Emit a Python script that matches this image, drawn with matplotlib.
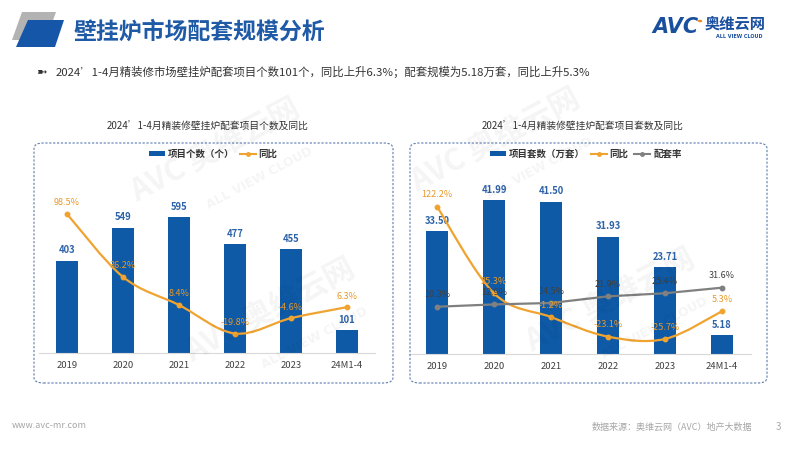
import matplotlib
matplotlib.use("Agg")
import matplotlib.pyplot as plt
from matplotlib.patches import FancyBboxPatch, Polygon, PathPatch, Patch, Circle
from matplotlib.lines import Line2D
from matplotlib.path import Path
import numpy as np

plt.rcParams['font.family'] = ['Noto Sans CJK SC', 'DejaVu Sans']

# ---------------- data ----------------
categories = ['2019', '2020', '2021', '2022', '2023', '24M1-4']
left_counts = [403, 549, 595, 477, 455, 101]
left_yoy = [98.5, 36.2, 8.4, -19.8, -4.6, 6.3]
right_sets = [33.50, 41.99, 41.50, 31.93, 23.71, 5.18]
right_yoy = [122.2, 25.3, -1.2, -23.1, -25.7, 5.3]
right_rate = [10.3, 12.9, 14.5, 21.9, 25.4, 31.6]

title = '壁挂炉市场配套规模分析'
subtitle = '2024’1-4月精装修市场壁挂炉配套项目个数101个，同比上升6.3%；配套规模为5.18万套，同比上升5.3%'
left_title = '2024’1-4月精装修壁挂炉配套项目个数及同比'
right_title = '2024’1-4月精装修壁挂炉配套项目套数及同比'

BLUE = '#0e5aa7'
ORANGE = '#f0a32f'
GRAY = '#808080'
TBLUE = '#2d62a8'

W, H = 800, 450
fig = plt.figure(figsize=(8, 4.5), dpi=100)


def fx(x):
    return x / W


def fy(y):
    return 1 - y / H


# ---------------- header ----------------
fig.patches.append(Polygon([(fx(22), fy(12)), (fx(56), fy(12)), (fx(46), fy(40)), (fx(12), fy(40))],
                           closed=True, transform=fig.transFigure, facecolor='#b3b3b3', edgecolor='none'))
fig.patches.append(Polygon([(fx(28), fy(20)), (fx(64), fy(20)), (fx(55), fy(47)), (fx(16), fy(47))],
                           closed=True, transform=fig.transFigure, facecolor='#1556a8', edgecolor='none'))
fig.text(fx(74), fy(32), title, fontsize=16.5, fontweight='bold', color='#1f5aa6', va='center', ha='left')

fig.text(fx(36), fy(72), '➼', fontsize=9, color='#333333', va='center', ha='left', family=['DejaVu Sans'])
fig.text(fx(56), fy(72), subtitle, fontsize=8.2, color='#333333', va='center', ha='left')

# logo
fig.text(fx(652), fy(27), 'AVC', fontsize=15, fontweight='heavy', color='#1a4f9f', va='center', ha='left',
         family=['DejaVu Sans'], style='italic')
fig.patches.append(Circle((fx(700), fy(21)), 0.0028, transform=fig.transFigure, facecolor='#f08a1c', edgecolor='none'))
fig.text(fx(705), fy(24), '奥维云网', fontsize=11, fontweight='bold', color='#1a4f9f', va='center', ha='left')
fig.text(fx(739), fy(37), 'ALL VIEW CLOUD', fontsize=3.5, fontweight='bold', color='#1a4f9f', va='center', ha='center',
         family=['DejaVu Sans'])

# watermarks
for (x, y) in [(215, 150), (270, 310), (495, 140), (610, 300)]:
    fig.text(fx(x), fy(y), 'AVC 奥维云网', fontsize=22, fontweight='heavy', color='#000000', alpha=0.045,
             rotation=28, ha='center', va='center')
    fig.text(fx(x + 45), fy(y + 28), 'ALL VIEW CLOUD', fontsize=9, fontweight='bold', color='#000000', alpha=0.045,
             rotation=28, ha='center', va='center', family=['DejaVu Sans'])

# footer
fig.text(fx(12), fy(426), 'www.avc-mr.com', fontsize=6.5, color='#a6a6a6', va='center', ha='left')
fig.text(fx(752), fy(427), '数据来源：奥维云网（AVC）地产大数据', fontsize=6.5, color='#a6a6a6', va='center', ha='right')
fig.text(fx(778), fy(427), '3', fontsize=7, color='#a6a6a6', va='center', ha='center')

# panels
for (x0, x1) in [(34, 393), (410, 767)]:
    fig.patches.append(FancyBboxPatch((fx(x0), fy(383)), fx(x1 - x0), (383 - 143) / H,
                                      boxstyle='round,pad=0,rounding_size=0.012',
                                      transform=fig.transFigure, facecolor='none',
                                      edgecolor='#5b7bb0', linewidth=0.8, linestyle=(0, (2, 1.5))))

fig.text(fx(208), fy(127), left_title, fontsize=7, color='#333333', ha='center', va='center')
fig.text(fx(583), fy(127), right_title, fontsize=7, color='#333333', ha='center', va='center')


def smooth_path(ax, xs, ys, color, lw=1.6):
    pts = np.column_stack([xs, ys]).astype(float)
    n = len(pts)
    verts = [pts[0]]
    codes = [Path.MOVETO]
    for i in range(n - 1):
        p0 = pts[i - 1] if i > 0 else pts[i]
        p1 = pts[i]
        p2 = pts[i + 1]
        p3 = pts[i + 2] if i + 2 < n else pts[i + 1]
        c1 = p1 + (p2 - p0) / 6.0
        c2 = p2 - (p3 - p1) / 6.0
        verts += [c1, c2, p2]
        codes += [Path.CURVE4] * 3
    patch = PathPatch(Path(verts, codes), facecolor='none', edgecolor=color, linewidth=lw,
                      transform=ax.transData, zorder=3)
    ax.add_patch(patch)


def make_chart(left_px, width_px, bottom_px, top_px, bars, ymax, sec_lim, bar_fmt):
    ax = fig.add_axes([fx(left_px), fy(bottom_px), fx(width_px), (bottom_px - top_px) / H])
    x = np.arange(len(categories))
    ax.bar(x, bars, width=0.38, color=BLUE, zorder=2)
    ax.set_xlim(-0.5, len(categories) - 0.5)
    ax.set_ylim(0, ymax)
    ax.set_xticks(x)
    ax.set_xticklabels(categories, fontsize=6.8, color='#404040')
    ax.tick_params(axis='x', length=0, pad=6)
    ax.set_yticks([])
    for s in ['top', 'left', 'right']:
        ax.spines[s].set_visible(False)
    ax.spines['bottom'].set_color('#d9d9d9')
    ax.spines['bottom'].set_linewidth(0.8)
    ax.patch.set_alpha(0)
    for xi, v in zip(x, bars):
        ax.annotate(bar_fmt.format(v), (xi, v), xytext=(0, 7.5), textcoords='offset points',
                    ha='center', va='center', fontsize=6.8, fontweight='bold', color=TBLUE)
    ax2 = ax.twinx()
    ax2.set_ylim(*sec_lim)
    ax2.set_yticks([])
    for s in ax2.spines.values():
        s.set_visible(False)
    return ax, ax2, x


# left chart
axL, axL2, x = make_chart(39, 336, 353, 175, left_counts, 779, (-39.1, 137.1), '{:d}')
smooth_path(axL2, x, left_yoy, ORANGE)
axL2.plot(x, left_yoy, 'o', color=ORANGE, markersize=3.2, zorder=4)
for xi, v in zip(x, left_yoy):
    axL2.annotate(f'{v:.1f}%', (xi, v), xytext=(0, 8), textcoords='offset points',
                  ha='center', va='center', fontsize=6.5, color='#e8982a', zorder=5)
handles = [Patch(facecolor=BLUE, edgecolor='none'),
           Line2D([], [], color=ORANGE, marker='o', markersize=2.5, linewidth=1.5)]
leg = axL.legend(handles, ['项目个数（个）', '同比'], loc='center', bbox_to_anchor=(fx(213), fy(154)),
                 bbox_transform=fig.transFigure, ncol=2, frameon=False, fontsize=6.8,
                 handlelength=1.7, handleheight=0.5, handletextpad=0.3, columnspacing=0.6)
for t in leg.get_texts():
    t.set_fontweight('bold')
    t.set_color('#333333')

# right chart
axR, axR2, x = make_chart(408.5, 342, 354, 175, right_sets, 48.8, (-42.5, 157.5), '{:.2f}')
smooth_path(axR2, x, right_yoy, ORANGE)
axR2.plot(x, right_yoy, 'o', color=ORANGE, markersize=3.2, zorder=4)
axR2.plot(x, right_rate, '-o', color=GRAY, markersize=3.2, linewidth=1.6, zorder=3)
for xi, v in zip(x, right_yoy):
    axR2.annotate(f'{v:.1f}%', (xi, v), xytext=(0, 8.5), textcoords='offset points',
                  ha='center', va='center', fontsize=6.5, color='#e8982a', zorder=5)
for xi, v in zip(x, right_rate):
    axR2.annotate(f'{v:.1f}%', (xi, v), xytext=(0, 8.5), textcoords='offset points',
                  ha='center', va='center', fontsize=6.5, color='#404040', zorder=5)
handles = [Patch(facecolor=BLUE, edgecolor='none'),
           Line2D([], [], color=ORANGE, marker='o', markersize=2.5, linewidth=1.5),
           Line2D([], [], color=GRAY, marker='o', markersize=2.5, linewidth=1.5)]
leg = axR.legend(handles, ['项目套数（万套）', '同比', '配套率'], loc='center', bbox_to_anchor=(fx(586), fy(154)),
                 bbox_transform=fig.transFigure, ncol=3, frameon=False, fontsize=6.8,
                 handlelength=1.7, handleheight=0.5, handletextpad=0.3, columnspacing=0.6)
for t in leg.get_texts():
    t.set_fontweight('bold')
    t.set_color('#333333')

fig.savefig('out.png', dpi=100)
